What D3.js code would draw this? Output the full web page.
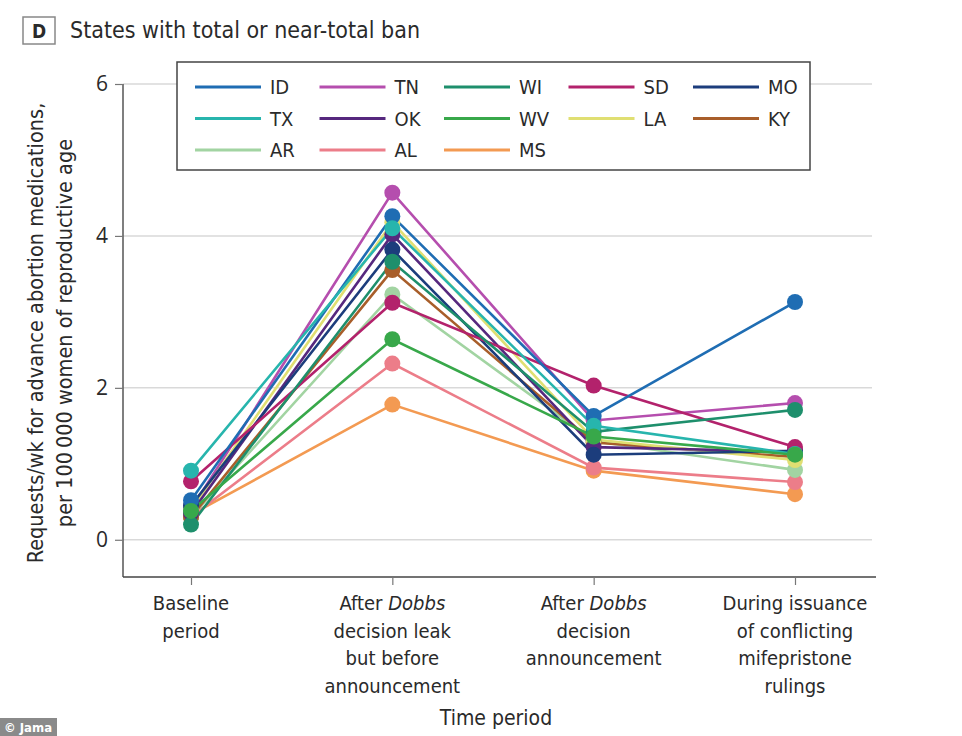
<!DOCTYPE html>
<html><head><meta charset="utf-8">
<script src="https://cdn.jsdelivr.net/npm/d3@7"></script>
<style>
body{margin:0;background:#fff;}
text{font-family:"Liberation Sans Narrow","DejaVu Sans Condensed",sans-serif;fill:#2a2a2a;}
</style></head><body>
<svg id="c" width="962" height="736"></svg>
<script>
const periods = ["Baseline period","After Dobbs decision leak but before announcement","After Dobbs decision announcement","During issuance of conflicting mifepristone rulings"];
const periodLines = [
  [["Baseline"],["period"]],
  [["After ",["Dobbs"]],["decision leak"],["but before"],["announcement"]],
  [["After ",["Dobbs"]],["decision"],["announcement"]],
  [["During issuance"],["of conflicting"],["mifepristone"],["rulings"]]
];
const states = ["ID","TN","WI","SD","MO","TX","OK","WV","LA","KY","AR","AL","MS"];
const colors = ["#1f6db3","#b54eae","#1e8f6c","#b3226c","#1c3d7c","#27b5ad","#56287e","#38a84a","#e0df72","#a85e2a","#a2d4a2","#ec7d89","#f39a52"];
const ID = [0.52,4.26,1.63,3.13];
const TN = [0.40,4.57,1.57,1.80];
const WI = [0.20,3.66,1.42,1.71];
const SD = [0.77,3.12,2.03,1.22];
const MO = [0.45,3.82,1.12,1.17];
const TX = [0.91,4.10,1.50,1.13];
const OK = [0.35,4.02,1.22,1.16];
const WV = [0.38,2.64,1.36,1.12];
const LA = [0.40,4.18,1.32,1.05];
const KY = [0.30,3.55,1.28,1.09];
const AR = [0.30,3.23,1.30,0.92];
const AL = [0.30,2.32,0.95,0.76];
const MS = [0.33,1.78,0.91,0.60];
const values = {ID,TN,WI,SD,MO,TX,OK,WV,LA,KY,AR,AL,MS};
const yTicks = [0,2,4,6];
const drawOrder = ["MS","AL","AR","TN","KY","LA","OK","MO","SD","ID","WI","TX","WV"];

const svg = d3.select("#c");
const x = d3.scalePoint().domain(periods).range([191,795]);
const y = d3.scaleLinear().domain([-0.49,6]).range([577,84]);
const colorOf = d3.scaleOrdinal().domain(states).range(colors);

// gridlines
svg.append("g").selectAll("line").data(yTicks).join("line")
  .attr("x1",123).attr("x2",872).attr("y1",d=>y(d)).attr("y2",d=>y(d))
  .attr("stroke","#d9d9d9").attr("stroke-width",1.5);

// y axis
const ya = svg.append("g").attr("transform","translate(123,0)")
  .call(d3.axisLeft(y).tickValues(yTicks).tickFormat(d3.format("d")).tickSize(8).tickPadding(7));
ya.select(".domain").attr("stroke","#555").attr("stroke-width",1.5).attr("d",`M0,${y(6)}V577`);
ya.selectAll(".tick line").attr("stroke","#777").attr("stroke-width",1.2);
ya.selectAll(".tick text").attr("fill","#2a2a2a")
  .style("font-family","'Open Sans',sans-serif").attr("font-size",21);

// x axis
const xa = svg.append("g").attr("transform","translate(0,577)")
  .call(d3.axisBottom(x).tickSize(8).tickFormat(""));
xa.select(".domain").attr("stroke","#444").attr("stroke-width",1.5).attr("d","M123,0H876");
xa.selectAll(".tick line").attr("stroke","#777").attr("stroke-width",1.2);

// x tick labels
periods.forEach((p,i)=>{
  const t = svg.append("text").attr("text-anchor","middle").attr("font-size",20);
  periodLines[i].forEach((ln,j)=>{
    ln.forEach((seg,k)=>{
      const ts = t.append("tspan").text(Array.isArray(seg)?seg[0]:seg);
      if(k===0) ts.attr("x",x(p)).attr("y",610+27.5*j);
      if(Array.isArray(seg)) ts.attr("font-style","italic");
    });
  });
});

// axis titles
svg.append("text").attr("x",496).attr("y",725).attr("text-anchor","middle").attr("font-size",21).text("Time period");
const yt = svg.append("text").attr("transform","translate(0,333) rotate(-90)").attr("text-anchor","middle").attr("font-size",21.5);
yt.append("tspan").attr("x",0).attr("y",43).text("Requests/wk for advance abortion medications,");
yt.append("tspan").attr("x",0).attr("y",72).text("per 100\u2009000 women of reproductive age");

// lines and points
const line = d3.line().x((d,i)=>x(periods[i])).y(d=>y(d));
const g = svg.append("g");
drawOrder.forEach(s=>{
  g.append("path").datum(values[s]).attr("d",line).attr("fill","none")
    .attr("stroke",colorOf(s)).attr("stroke-width",2.6);
});
drawOrder.forEach(s=>{
  g.append("g").selectAll("circle").data(values[s]).join("circle")
    .attr("cx",(d,i)=>x(periods[i])).attr("cy",d=>y(d)).attr("r",8)
    .attr("fill",colorOf(s));
});

// legend
const lg = svg.append("g");
lg.append("rect").attr("x",177).attr("y",62).attr("width",633).attr("height",108)
  .attr("fill","#fff").attr("stroke","#444").attr("stroke-width",1.5);
states.forEach((s,i)=>{
  const col = i%5, row = Math.floor(i/5);
  const tx = 270 + col*124.5, ty = 87 + row*31.5;
  lg.append("line").attr("x1",tx-75).attr("x2",tx-9).attr("y1",ty).attr("y2",ty)
    .attr("stroke",colorOf(s)).attr("stroke-width",3.2);
  lg.append("text").attr("x",tx).attr("y",ty+7).attr("font-size",20).text(s);
});

// title
svg.append("rect").attr("x",23).attr("y",17).attr("width",32).attr("height",27)
  .attr("fill","#fff").attr("stroke","#888").attr("stroke-width",1.5);
svg.append("text").attr("x",39).attr("y",38).attr("text-anchor","middle").attr("font-size",19).attr("font-weight","bold").text("D");
svg.append("text").attr("x",70).attr("y",38).attr("font-size",23).text("States with total or near-total ban");

// badge
svg.append("rect").attr("x",0).attr("y",718).attr("width",57).attr("height",18).attr("fill","#8a8a8a");
svg.append("text").attr("x",4).attr("y",732).attr("font-size",13).attr("font-weight","bold").style("fill","#fff").text("\u00a9 Jama");
</script></body></html>
